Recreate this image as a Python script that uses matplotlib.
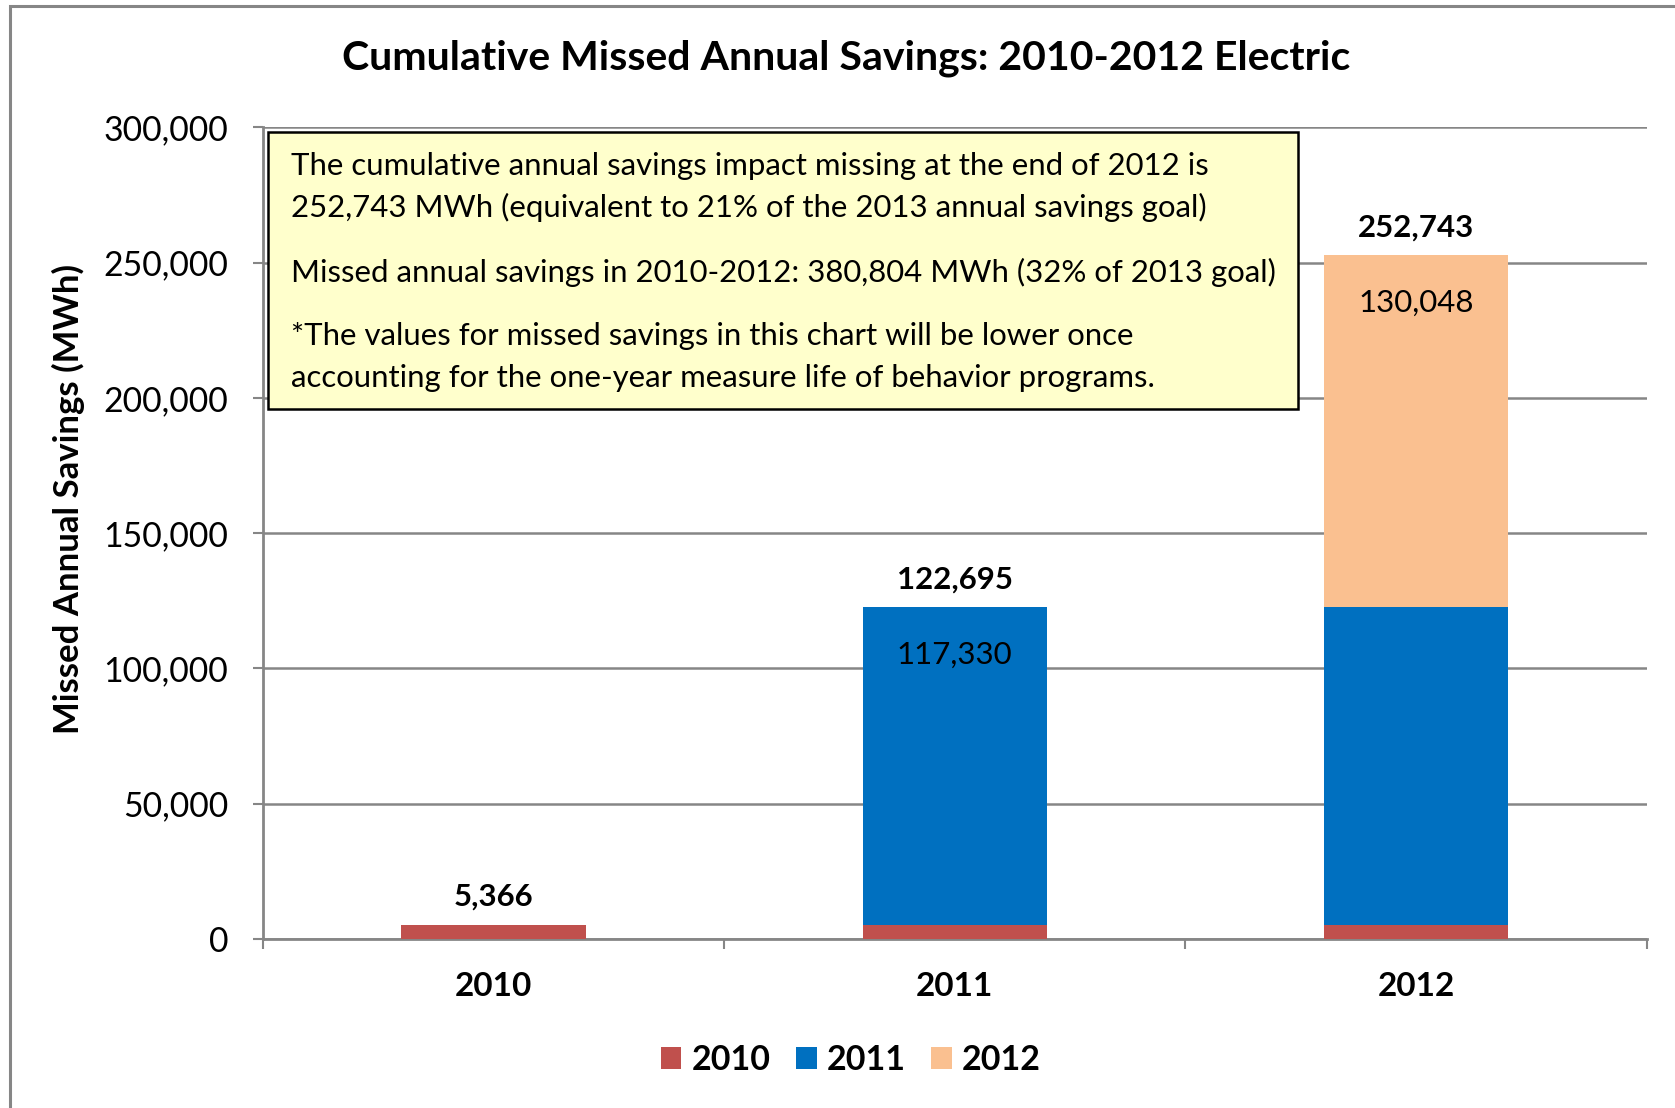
# -*- coding: utf-8 -*-
import matplotlib
matplotlib.use("Agg")
import matplotlib.pyplot as plt
from matplotlib.patches import Rectangle
from matplotlib.ticker import FuncFormatter

categories = ["2010", "2011", "2012"]
series_names = ["2010", "2011", "2012"]
s2010 = [5366, 5366, 5366]
s2011 = [0, 117330, 117330]
s2012 = [0, 0, 130048]
totals = [5366, 122695, 252743]
inner_labels = [(1, 122695, "117,330"), (2, 252743, "130,048")]
yticks = [0, 50000, 100000, 150000, 200000, 250000, 300000]
colors = ["#C0504D", "#0070C0", "#FAC090"]

note_lines = [
    "The cumulative annual savings impact missing at the end of 2012 is",
    "252,743 MWh (equivalent to 21% of the 2013 annual savings goal)",
    "Missed annual savings in 2010-2012: 380,804 MWh (32% of 2013 goal)",
    "*The values for missed savings in this chart will be lower once",
    "accounting for the one-year measure life of behavior programs.",
]

plt.rcParams['font.family'] = ['Lato', 'DejaVu Sans']

fig = plt.figure(figsize=(16.75, 11.08), dpi=100)
ax = fig.add_axes([0.157, 0.1525, 0.826, 0.7325])

# outer chart frame (only top and left edges fall inside the picture)
fig.patches.append(Rectangle((0.006, -0.2), 1.2, 1.1946, transform=fig.transFigure,
                             fill=False, edgecolor="#868686", linewidth=2.2))

x = list(range(len(categories)))
width = 0.4
ax.bar(x, s2010, width, color=colors[0], label=series_names[0], zorder=3)
ax.bar(x, s2011, width, bottom=s2010, color=colors[1], label=series_names[1], zorder=3)
bottom12 = [a + b for a, b in zip(s2010, s2011)]
ax.bar(x, s2012, width, bottom=bottom12, color=colors[2], label=series_names[2], zorder=3)

for xi, t in zip(x, totals):
    ax.annotate(f"{t:,}", (xi, t), xytext=(0, 10), textcoords="offset points",
                ha="center", va="bottom", fontsize=22.5, fontweight="bold")
for xi, top, lab in inner_labels:
    ax.annotate(lab, (xi, top), xytext=(0, -34), textcoords="offset points",
                ha="center", va="center", fontsize=22.5)

ax.set_xlim(-0.5, 2.5)
ax.set_ylim(0, 300000)
ax.set_yticks(yticks)
ax.yaxis.set_major_formatter(FuncFormatter(lambda v, p: f"{int(v):,}"))
ax.set_xticks(x)
ax.set_xticklabels(categories, fontsize=24, fontweight="bold")
ax.set_xticks([-0.5, 0.5, 1.5, 2.5], minor=True)
ax.tick_params(axis="x", which="major", length=0, pad=24)
ax.tick_params(axis="x", which="minor", length=7, width=1.5, color="#868686")
ax.tick_params(axis="y", length=7, width=1.5, color="#868686", labelsize=24.3, pad=18)

ax.grid(axis="y", color="#868686", linewidth=1.8, zorder=0)
ax.set_axisbelow(True)
for s in ["top", "right"]:
    ax.spines[s].set_visible(False)
for s in ["left", "bottom"]:
    ax.spines[s].set_color("#868686")
    ax.spines[s].set_linewidth(2)

ax.set_ylabel("Missed Annual Savings (MWh)", fontsize=25, fontweight="bold")
ax.yaxis.set_label_coords(-0.1285, 0.542)
fig.text(0.505, 0.947, "Cumulative Missed Annual Savings: 2010-2012 Electric",
         ha="center", va="center", fontsize=29.5, fontweight="bold")

# note box
ax.add_patch(Rectangle((0.0036, 0.6527), 0.7444, 0.3411, transform=ax.transAxes,
                       facecolor="#FFFFCC", edgecolor="black", linewidth=1.8, zorder=5))
line_y = [0.952, 0.902, 0.821, 0.743, 0.691]
for ly, txt in zip(line_y, note_lines):
    ax.text(0.0202, ly, txt, transform=ax.transAxes, ha="left", va="center",
            fontsize=22.4, zorder=6)

leg = fig.legend(loc="center", bbox_to_anchor=(0.508, 0.0435), ncol=3, frameon=False,
                 prop={"size": 24.5, "weight": "bold"}, handlelength=0.6, handleheight=0.6,
                 handletextpad=0.3, columnspacing=0.75)

fig.savefig("out.png", dpi=100)
